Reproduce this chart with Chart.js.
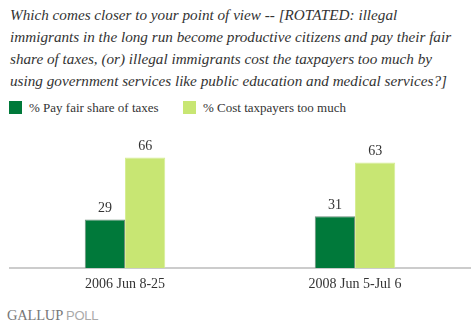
<!DOCTYPE html>
<html lang="en">

<head>
    <meta charset="UTF-8">
    <title>Illegal immigrants: taxes vs. cost</title>
    <style>
        body {
            margin: 0;
            width: 474px;
            height: 324px;
            background: #fff;
            position: relative;
            overflow: hidden;
            font-family: "Liberation Serif", "DejaVu Serif", serif;
            color: #333;
        }

        #question {
            position: absolute;
            left: 10px;
            top: 4px;
            font-size: 15.2px;
            font-style: italic;
            line-height: 22px;
            white-space: nowrap;
        }

        #legend {
            position: absolute;
            left: 9px;
            top: 101px;
            font-size: 13px;
            line-height: 13px;
        }

        #legend span {
            position: absolute;
            white-space: nowrap;
        }

        #legend i {
            position: absolute;
            width: 13px;
            height: 13px;
        }

        #chart-container {
            position: absolute;
            left: 0;
            top: 120px;
            width: 474px;
            height: 181px;
        }

        #logo {
            position: absolute;
            left: 7px;
            top: 307px;
            font-size: 14.5px;
            letter-spacing: -0.2px;
        }

        #logo .g {
            color: #777;
        }

        #logo .p {
            color: #aaa;
            font-family: "Liberation Sans", Arial, sans-serif;
            font-size: 13px;
        }
    </style>
</head>

<body>
    <div id="question">
        Which comes closer to your point of view -- [ROTATED: illegal<br>
        immigrants in the long run become productive citizens and pay their fair<br>
        share of taxes, (or) illegal immigrants cost the taxpayers too much by<br>
        using government services like public education and medical services?]
    </div>

    <div id="legend"></div>

    <div id="chart-container">
        <canvas id="chart"></canvas>
    </div>

    <div id="logo"><span class="g">GALLUP</span> <span class="p">POLL</span></div>

    <script src="https://cdn.jsdelivr.net/npm/chart.js"></script>

    <script>
        // Survey dates and percentages
        const categories = ['2006 Jun 8-25', '2008 Jun 5-Jul 6'];
        const seriesNames = ['% Pay fair share of taxes', '% Cost taxpayers too much'];
        const payFairShare = [29, 31];
        const costTooMuch = [66, 63];

        const darkGreen = '#00793a';
        const lightGreen = '#c8e673';

        // Legend drawn as plain HTML above the chart
        const legendEl = document.getElementById('legend');
        const legendX = [0, 174];
        [darkGreen, lightGreen].forEach((color, i) => {
            const box = document.createElement('i');
            box.style.left = legendX[i] + 'px';
            box.style.background = color;
            legendEl.appendChild(box);
            const label = document.createElement('span');
            label.style.left = (legendX[i] + 20) + 'px';
            label.textContent = seriesNames[i];
            legendEl.appendChild(label);
        });

        // Print the value above each bar
        const valueLabels = {
            id: 'valueLabels',
            afterDatasetsDraw(chart) {
                const ctx = chart.ctx;
                ctx.save();
                ctx.font = '14px "Liberation Serif", serif';
                ctx.fillStyle = '#333';
                ctx.textAlign = 'center';
                ctx.textBaseline = 'bottom';
                chart.data.datasets.forEach((ds, i) => {
                    chart.getDatasetMeta(i).data.forEach((bar, j) => {
                        ctx.fillText(ds.data[j], bar.x, bar.y - 4);
                    });
                });
                ctx.restore();
            }
        };

        const ctx = document.getElementById('chart').getContext('2d');
        const chart = new Chart(ctx, {
            type: 'bar',
            data: {
                labels: categories,
                datasets: [{
                    label: seriesNames[0],
                    data: payFairShare,
                    backgroundColor: darkGreen,
                    borderColor: '#6f8f7c',
                    borderWidth: 1
                }, {
                    label: seriesNames[1],
                    data: costTooMuch,
                    backgroundColor: lightGreen,
                    borderColor: '#d6ee94',
                    borderWidth: 1
                }]
            },
            options: {
                responsive: true,
                maintainAspectRatio: false,
                animation: false,
                layout: {
                    padding: { left: 10, right: 4, top: 14, bottom: 0 }
                },
                datasets: {
                    bar: {
                        categoryPercentage: 0.35,
                        barPercentage: 1
                    }
                },
                plugins: {
                    legend: { display: false },
                    tooltip: { enabled: false }
                },
                scales: {
                    x: {
                        grid: {
                            display: false,
                            drawTicks: false
                        },
                        border: {
                            color: '#cccccc',
                            width: 2
                        },
                        ticks: {
                            padding: 8,
                            color: '#333',
                            font: { family: '"Liberation Serif", serif', size: 14 }
                        }
                    },
                    y: {
                        display: false,
                        min: 0,
                        max: 80
                    }
                }
            },
            plugins: [valueLabels]
        });
    </script>
</body>

</html>
